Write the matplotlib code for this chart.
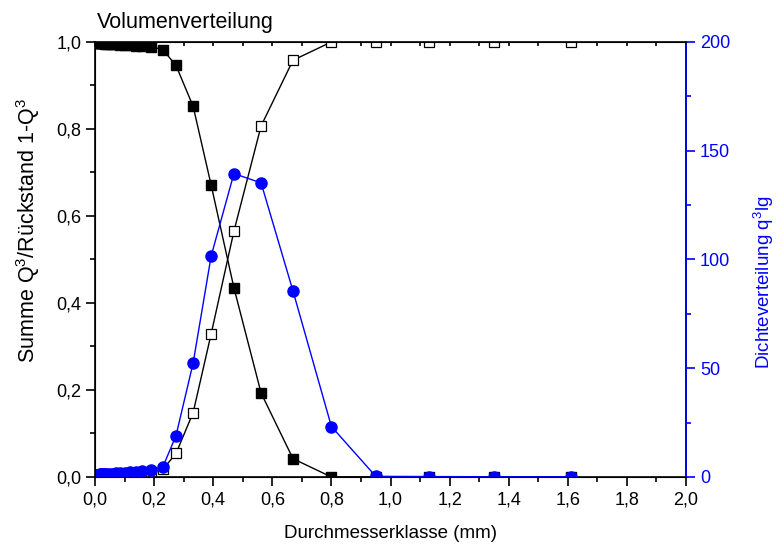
import numpy as np
import matplotlib.pyplot as plt
from matplotlib.ticker import MultipleLocator, FuncFormatter

plt.rcParams['font.family'] = ['Liberation Sans', 'DejaVu Sans']
plt.rcParams['mathtext.fontset'] = 'custom'
plt.rcParams['mathtext.rm'] = 'Liberation Sans'
plt.rcParams['mathtext.default'] = 'regular'

# Siebklassen (mm)
durchmesser = [0.0045, 0.0053, 0.0063, 0.0075, 0.0089, 0.0106, 0.0126, 0.015,
               0.0178, 0.0212, 0.025, 0.0297, 0.0354, 0.042, 0.05, 0.0595,
               0.0707, 0.0841, 0.1, 0.117, 0.137, 0.16, 0.19, 0.23, 0.274,
               0.332, 0.393, 0.47, 0.562, 0.67, 0.8, 0.95, 1.13, 1.35, 1.61]

summe_q3 = [0.0003, 0.0004, 0.0006, 0.0008, 0.001, 0.0013, 0.0016, 0.0019,
            0.0022, 0.0026, 0.003, 0.0034, 0.0038, 0.0043, 0.0048, 0.0053,
            0.0058, 0.0064, 0.007, 0.0077, 0.0085, 0.0094, 0.0105, 0.018, 0.054,
            0.148, 0.329, 0.565, 0.807, 0.958, 1.0, 1.0, 1.0, 1.0, 1.0]

rueckstand = [0.9997, 0.9996, 0.9994, 0.9992, 0.999, 0.9987, 0.9984, 0.9981,
              0.9978, 0.9974, 0.997, 0.9966, 0.9962, 0.9957, 0.9952, 0.9947,
              0.9942, 0.9936, 0.993, 0.9923, 0.9915, 0.9906, 0.9895, 0.982, 0.946,
              0.852, 0.671, 0.435, 0.193, 0.042, 0.0, 0.0, 0.0, 0.0, 0.0]

dichte_q3lg = [0.8, 0.9, 0.9, 0.9, 1.0, 1.0, 1.1, 1.1,
               1.2, 1.2, 1.3, 1.3, 1.4, 1.5, 1.5, 1.6,
               1.7, 1.8, 1.9, 2.1, 2.3, 2.6, 3.0, 4.8, 19.0,
               52.4, 101.6, 139.5, 135.2, 85.5, 23.2, 0.3, 0.2, 0.1, 0.1]

fig = plt.figure(figsize=(7.79, 5.45), dpi=100)
ax = fig.add_axes([0.122, 0.1248, 0.7586, 0.7982])

ax.plot(durchmesser, rueckstand, '-s', color='black', lw=1,
        markersize=6.5, markerfacecolor='black', markeredgecolor='black')
ax.plot(durchmesser, summe_q3, '-s', color='black', lw=1,
        markersize=6.5, markerfacecolor='white', markeredgecolor='black',
        markeredgewidth=0.9)

ax.set_xlim(0, 2.0)
ax.set_ylim(0, 1.0)
ax.xaxis.set_major_locator(MultipleLocator(0.2))
ax.xaxis.set_minor_locator(MultipleLocator(0.1))
ax.yaxis.set_major_locator(MultipleLocator(0.2))
ax.yaxis.set_minor_locator(MultipleLocator(0.1))
komma = FuncFormatter(lambda v, p: f"{v:.1f}".replace('.', ','))
ax.xaxis.set_major_formatter(komma)
ax.yaxis.set_major_formatter(komma)
ax.tick_params(which='both', direction='out', labelsize=13, width=1.2,
               right=False)
ax.tick_params(which='major', length=6.5)
ax.tick_params(which='minor', length=3.5)
ax.tick_params(axis='x', which='both', top=True)
ax.tick_params(axis='x', which='both', pad=4)
# kurze Striche an der oberen Achse nach innen
for t in ax.xaxis.get_major_ticks() + ax.xaxis.get_minor_ticks():
    t.tick2line.set_marker(3)
    t.tick2line.set_markersize(3)
for s in ax.spines.values():
    s.set_linewidth(1.2)

ax.set_xlabel('Durchmesserklasse (mm)', fontsize=13.5, labelpad=12)
ax.set_ylabel('Summe Q$^3$/Rückstand 1-Q$^3$', fontsize=15.5)
ax.yaxis.set_label_coords(-0.0895, 0.566)
ax.text(0.003, 1.02, 'Volumenverteilung', transform=ax.transAxes,
        fontsize=15.5, ha='left', va='bottom')

ax2 = ax.twinx()
ax2.plot(durchmesser, dichte_q3lg, '-o', color='blue', lw=1,
         markersize=8, markerfacecolor='blue', markeredgecolor='blue')
ax2.set_ylim(0, 200)
ax2.yaxis.set_major_locator(MultipleLocator(50))
ax2.yaxis.set_minor_locator(MultipleLocator(25))
ax2.tick_params(axis='y', which='both', direction='out', colors='blue',
                labelsize=13, width=1.2)
ax2.tick_params(axis='y', which='major', length=6.5)
ax2.tick_params(axis='y', which='minor', length=3.5)
ax2.spines['right'].set_color('blue')
ax2.spines['right'].set_linewidth(1.2)
ax2.set_ylabel('Dichteverteilung q$^3$lg', color='blue', fontsize=13.5)
ax2.yaxis.set_label_coords(1.112, 0.448)

fig.savefig('out.png', dpi=100)
